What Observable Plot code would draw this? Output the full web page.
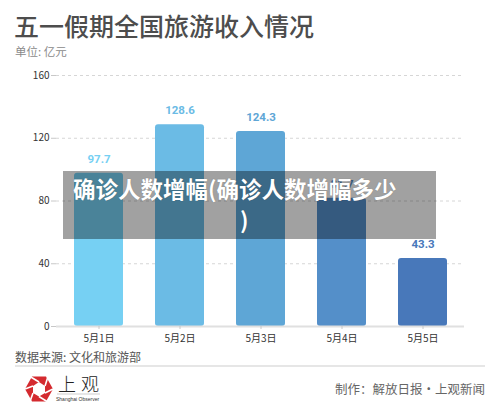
<!DOCTYPE html>
<html>
<head>
<meta charset="utf-8">
<script src="https://cdn.jsdelivr.net/npm/d3@7"></script>
<script src="https://cdn.jsdelivr.net/npm/@observablehq/plot@0.6"></script>
<style>
  html, body { margin: 0; padding: 0; background: #fff; }
  #wrap { position: relative; width: 500px; height: 412px; overflow: hidden; font-family: "Noto Sans CJK SC", "Noto Sans", sans-serif; }
  .abs { position: absolute; white-space: nowrap; }
  #title { left: 14px; top: 12px; font-size: 25px; line-height: 26px; color: #4d4d4d; font-weight: 500; }
  #unit { left: 15px; top: 44px; font-size: 11.5px; line-height: 14px; color: #8a8a8a; }
  #chart { left: 0; top: 60px; }
  #source { left: 15px; top: 348px; font-size: 12px; line-height: 18px; color: #555; }
  #sep { left: 15px; top: 365px; width: 470px; height: 2px; background: #e6e6e6; }
  #credit { right: 15px; top: 379px; font-size: 12.5px; line-height: 20px; color: #666; }
  #overlay { left: 63px; top: 171px; width: 373px; height: 68px; background: rgba(0,0,0,0.37); }
  .ov { color: #fff; font-weight: 700; font-size: 22.5px; line-height: 31px; text-shadow: 0 0 1px rgba(0,0,0,0.3); }
  #ov1 { left: 73px; top: 173px; }
  #ov2 { left: 240px; top: 204px; }
  #logo { left: 22px; top: 368px; }
</style>
</head>
<body>
<div id="wrap">
  <div id="title" class="abs">五一假期全国旅游收入情况</div>
  <div id="unit" class="abs">单位: 亿元</div>
  <div id="chart" class="abs"></div>
  <div id="source" class="abs">数据来源: 文化和旅游部</div>
  <div id="sep" class="abs"></div>
  <div id="logo" class="abs">
    <svg width="110" height="42" viewBox="0 0 110 42">
      <g transform="translate(17,21)">
        <polygon points="-14,0 -7,-12.5 7,-12.5 14,0 7,12.5 -7,12.5" fill="#d42a2f"/>
        <polygon points="-6,-3 0,-7 6,-3 6,4 0,7.5 -6,4" fill="#fff"/>
        <g stroke="#fff" stroke-width="1.6">
          <line x1="0" y1="-7" x2="-9" y2="-12.5"/>
          <line x1="6" y1="-3" x2="9" y2="-12.5"/>
          <line x1="6" y1="4" x2="14" y2="0"/>
          <line x1="0" y1="7.5" x2="8" y2="12.5"/>
          <line x1="-6" y1="4" x2="-9" y2="12.5"/>
          <line x1="-6" y1="-3" x2="-14" y2="0"/>
        </g>
      </g>
      <text x="36" y="23" font-size="18" font-family="Noto Sans CJK SC" font-weight="300" fill="#222" letter-spacing="5">上观</text>
      <line x1="35" y1="26" x2="78" y2="26" stroke="#999" stroke-width="0.5"/>
      <text x="34" y="32.5" font-size="5" font-family="Liberation Sans" fill="#333">Shanghai Observer</text>
    </svg>
  </div>
  <div id="credit" class="abs">制作：解放日报·上观新闻</div>
  <div id="overlay" class="abs"></div>
  <div id="ov1" class="abs ov">确诊人数增幅(确诊人数增幅多少</div>
  <div id="ov2" class="abs ov">)</div>
</div>
<script>
const days = ["5月1日", "5月2日", "5月3日", "5月4日", "5月5日"];
const revenue = [97.7, 128.6, 124.3, 81.7, 43.3];
const yTicks = [0, 40, 80, 120, 160];
const palette = ["#76d0f3", "#6bbbe5", "#5ea6d6", "#548fc9", "#4878ba"];
</script>
<script>
const data = days.map((d, i) => ({day: d, value: revenue[i]}));
const chart = Plot.plot({
  width: 500,
  height: 290,
  marginTop: 15,
  marginBottom: 24,
  marginLeft: 56,
  marginRight: 36,
  style: {fontFamily: "Noto Sans CJK SC, Noto Sans, sans-serif", background: "transparent"},
  x: {domain: days, paddingInner: 0.4, paddingOuter: 0.2, label: null},
  y: {domain: [0, 160], label: null},
  color: {domain: days, range: palette},
  marks: [
    Plot.gridY(yTicks, {stroke: "#d6d6d6", strokeOpacity: 1, strokeDasharray: "3,3"}),
    Plot.axisY(yTicks, {tickSize: 5, tickPadding: 2, stroke: "#c8c8c8", fill: "#333", fontSize: 10, label: null}),
    Plot.barY(data, {x: "day", y: "value", fill: "day", rx: 3}),
    Plot.ruleY([0], {stroke: "#e0e0e0", strokeWidth: 2}),
    Plot.axisX({tickSize: 3, tickPadding: 5, stroke: "#c8c8c8", fill: "#333", fontSize: 10, label: null}),
    Plot.text(data, {x: "day", y: "value", text: d => d.value.toFixed(1), dy: -14, fill: "day", fontWeight: 700, fontSize: 11.5, fontFamily: "Roboto"})
  ]
});
document.getElementById("chart").appendChild(chart);
</script>
</body>
</html>
